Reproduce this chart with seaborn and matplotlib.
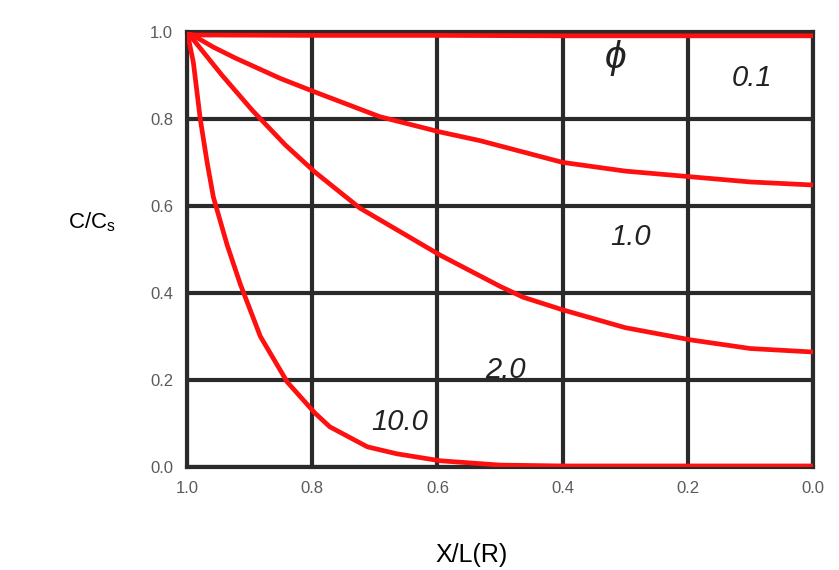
import numpy as np
import pandas as pd
import seaborn as sns
import matplotlib.pyplot as plt

# values
x_01 = [1.0, 0.8, 0.6, 0.4, 0.2, 0.0]
y_01 = [0.993, 0.992, 0.992, 0.991, 0.991, 0.991]

x_1 = [1.0, 0.958, 0.923, 0.851, 0.796, 0.692, 0.596, 0.532, 0.4, 0.3, 0.196, 0.1, 0.0]
y_1 = [1.0, 0.965, 0.94, 0.893, 0.862, 0.805, 0.77, 0.75, 0.70, 0.68, 0.667, 0.655, 0.648]

x_2 = [1.0, 0.958, 0.944, 0.896, 0.843, 0.796, 0.724, 0.596, 0.5, 0.463, 0.4, 0.3, 0.196, 0.1, 0.0]
y_2 = [1.0, 0.925, 0.90, 0.82, 0.74, 0.678, 0.595, 0.487, 0.415, 0.39, 0.361, 0.32, 0.292, 0.272, 0.264]

x_10 = [1.0, 0.99, 0.979, 0.968, 0.958, 0.936, 0.915, 0.883, 0.84, 0.796, 0.772,
        0.712, 0.665, 0.596, 0.5, 0.4, 0.2, 0.0]
y_10 = [1.0, 0.93, 0.80, 0.70, 0.62, 0.51, 0.42, 0.30, 0.195, 0.124, 0.092,
        0.046, 0.03, 0.014, 0.004, 0.002, 0.002, 0.002]

phi_labels = ["0.1", "1.0", "2.0", "10.0"]
ticks = [0.0, 0.2, 0.4, 0.6, 0.8, 1.0]

frames = []
for lab, xs, ys in zip(phi_labels, [x_01, x_1, x_2, x_10], [y_01, y_1, y_2, y_10]):
    frames.append(pd.DataFrame({"x": xs, "y": ys, "phi": lab}))
df = pd.concat(frames, ignore_index=True)

sns.set_style("white")
plt.rcParams['font.family'] = ['Liberation Sans', 'DejaVu Sans']

fig = plt.figure(figsize=(8.39, 5.70), dpi=100)
ax = fig.add_axes([0.223, 0.181, 0.746, 0.763])

for t in ticks:
    ax.axvline(t, color="#2a2a2a", lw=3, zorder=1)
    ax.axhline(t, color="#2a2a2a", lw=3, zorder=1)

sns.lineplot(data=df, x="x", y="y", units="phi", estimator=None, sort=False,
             color="#ff1010", lw=3.4, ax=ax, zorder=3)

ax.set_xlim(1.0, 0.0)
ax.set_ylim(0.0, 1.0)
ax.set_xticks(ticks)
ax.set_yticks(ticks)
ax.set_xticklabels([f"{t:.1f}" for t in ticks])
ax.set_yticklabels([f"{t:.1f}" for t in ticks])
ax.tick_params(axis="both", length=0, labelsize=12, colors="#5a5a5a", pad=10)
for s in ax.spines.values():
    s.set_color("#2a2a2a")
    s.set_linewidth(3)

ax.set_xlabel("X/L(R)", fontsize=18, color="black")
ax.xaxis.set_label_coords(0.455, -0.202)
ax.xaxis.label.set_va("center")
ax.set_ylabel("C/C$_\\mathregular{s}$", fontsize=16, rotation=0, color="black",
              va="center", ha="center")
ax.yaxis.set_label_coords(-0.152, 0.563)

lab_kw = dict(style="italic", color="#222222", ha="center", va="center", zorder=4)
ax.text(0.316, 0.94, "\u03d5", fontsize=28, **lab_kw)
ax.text(0.097, 0.894, "0.1", fontsize=21, **lab_kw)
ax.text(0.292, 0.529, "1.0", fontsize=21, **lab_kw)
ax.text(0.492, 0.223, "2.0", fontsize=21, **lab_kw)
ax.text(0.66, 0.103, "10.0", fontsize=21, **lab_kw)

fig.savefig("out.png", dpi=100, facecolor="white")
